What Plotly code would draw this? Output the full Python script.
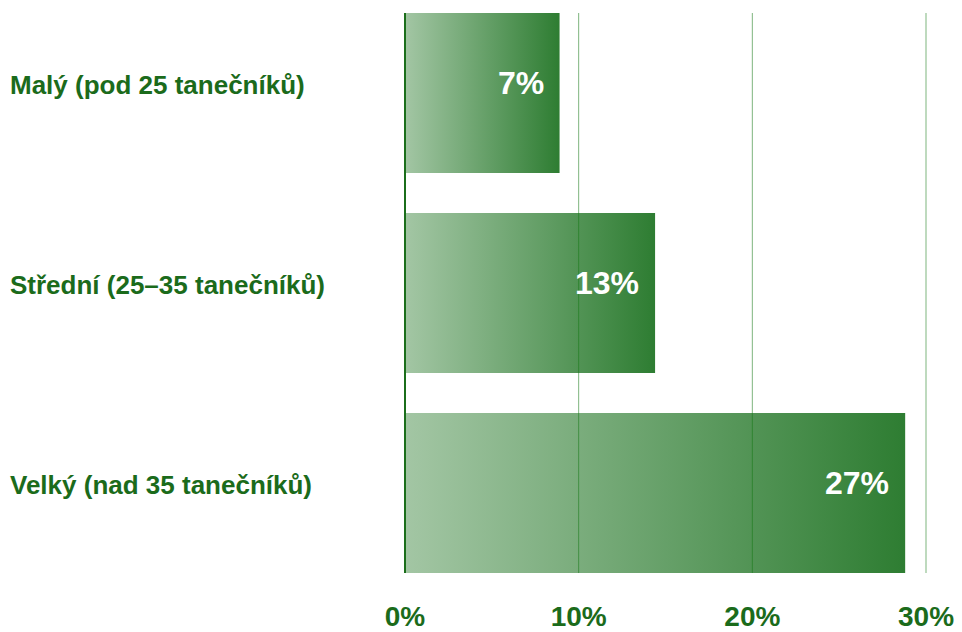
import plotly.graph_objects as go

categories = ["Malý (pod 25 tanečníků)", "Střední (25–35 tanečníků)", "Velký (nad 35 tanečníků)"]
bar_lengths = [8.9, 14.4, 28.8]          # bar extent as read on the % axis
bar_labels = ["7%", "13%", "27%"]         # labels printed inside bars
tick_values = [0, 10, 20, 30]
tick_labels = ["0%", "10%", "20%", "30%"]

GREEN_TEXT = "#1b6b1b"
FONT = "Liberation Sans"
BAR_HALF = 0.4

fig = go.Figure()

for i, v in enumerate(bar_lengths):
    fig.add_trace(go.Scatter(
        x=[0, v, v, 0, 0],
        y=[i - BAR_HALF, i - BAR_HALF, i + BAR_HALF, i + BAR_HALF, i - BAR_HALF],
        mode="lines",
        fill="toself",
        line=dict(width=0, color="rgba(0,0,0,0)"),
        fillgradient=dict(type="horizontal",
                          colorscale=[[0, "#a3c6a4"], [1, "#2e7d32"]]),
        hoverinfo="skip",
        showlegend=False,
    ))
    fig.add_annotation(
        x=v, y=i, xref="x", yref="y",
        text=bar_labels[i], showarrow=False,
        xanchor="right", yanchor="middle", xshift=-14, yshift=10,
        font=dict(family=FONT, size=32, color="white", weight="bold"),
    )
    fig.add_annotation(
        x=(8 - 405) / 540, y=i, xref="paper", yref="y",
        text=categories[i], showarrow=False,
        xanchor="left", yanchor="middle", yshift=8,
        font=dict(family=FONT, size=26, color=GREEN_TEXT, weight="bold"),
    )

for t in tick_values:
    if t == 0:
        fig.add_shape(type="line", x0=0, x1=0, y0=0, y1=1, xref="paper", yref="paper",
                      line=dict(color="#1b6e1b", width=2), layer="above")
    else:
        fig.add_shape(type="line", x0=t, x1=t, y0=0, y1=1, xref="x", yref="paper",
                      line=dict(color="rgba(20,120,20,0.55)", width=1), layer="above")

fig.update_layout(
    width=962, height=632,
    margin=dict(l=405, r=17, t=13, b=59, autoexpand=False),
    paper_bgcolor="white", plot_bgcolor="white",
    xaxis=dict(range=[0, 540 / 17.367], tickvals=tick_values, ticktext=tick_labels,
               showgrid=False, zeroline=False, showline=False, automargin=False,
               ticks="", ticklabelstandoff=24,
               tickfont=dict(family=FONT, size=28, color=GREEN_TEXT, weight="bold")),
    yaxis=dict(range=[len(categories) - 1 + BAR_HALF, -BAR_HALF], showgrid=False,
               zeroline=False, showticklabels=False, showline=False, automargin=False),
)

fig.write_html("out.html", config={"displayModeBar": False},
               post_script="document.body.style.margin='0';document.body.style.padding='0';")
